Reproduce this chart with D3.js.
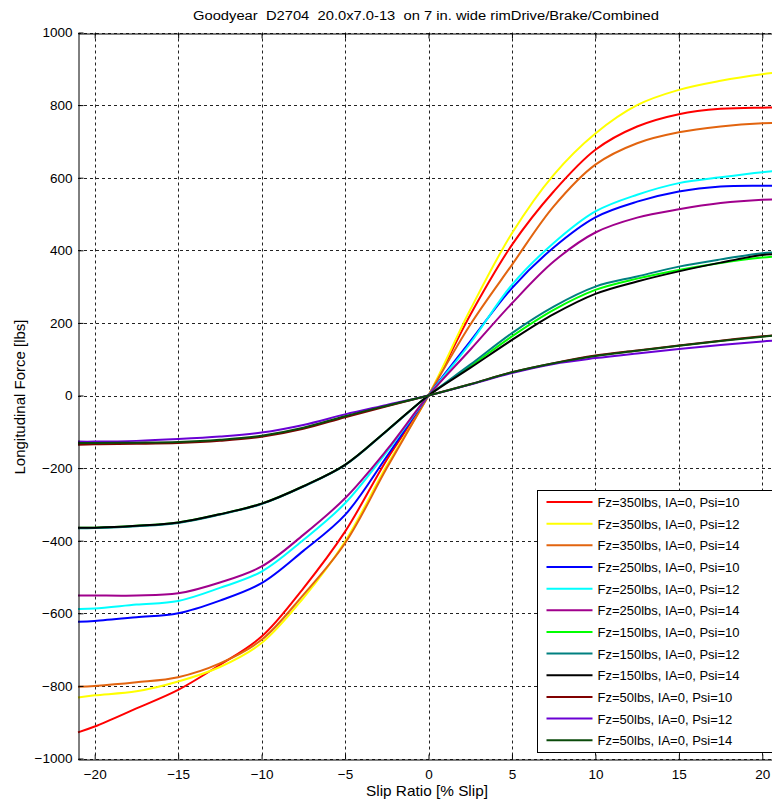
<!DOCTYPE html>
<html>
<head>
<meta charset="utf-8">
<script src="https://cdn.jsdelivr.net/npm/d3@7"></script>
<style>
  body { margin: 0; background: #fff; }
  svg { display: block; font-family: "Liberation Sans", Arial, sans-serif; }
</style>
</head>
<body>
<svg id="vis"></svg>
<script>
const width = 772;
const height = 803;
const margin = { top: 33, bottom: 44, left: 78, right: -7 };

// slip ratio sample points (% slip)
const slip = [-21, -20, -17.5, -15, -12.5, -10, -7.5, -5, -2.5, 0, 2.5, 5, 7.5, 10, 12.5, 15, 17.5, 20, 21];

const labels = [
  "Fz=350lbs, IA=0, Psi=10", "Fz=350lbs, IA=0, Psi=12", "Fz=350lbs, IA=0, Psi=14",
  "Fz=250lbs, IA=0, Psi=10", "Fz=250lbs, IA=0, Psi=12", "Fz=250lbs, IA=0, Psi=14",
  "Fz=150lbs, IA=0, Psi=10", "Fz=150lbs, IA=0, Psi=12", "Fz=150lbs, IA=0, Psi=14",
  "Fz=50lbs, IA=0, Psi=10", "Fz=50lbs, IA=0, Psi=12", "Fz=50lbs, IA=0, Psi=14"
];
const colors = ["#ff0000", "#ffff00", "#e2640f", "#0000ff", "#00ffff", "#a0008c",
                "#00ff00", "#008080", "#000000", "#800000", "#6a00d4", "#0a4a0a"];

// longitudinal force [lbs] at each slip point
const fz350psi10 = [-928, -912, -862, -811, -742, -664, -531, -375, -177, 0, 222, 415, 562, 677, 741, 775, 790, 793, 793];
const fz350psi12 = [-832, -826, -815, -788, -748, -682, -558, -402, -193, 0, 236, 447, 608, 722, 800, 842, 867, 885, 890];
const fz350psi14 = [-802, -800, -790, -776, -738, -673, -549, -407, -200, 0, 195, 360, 521, 636, 695, 725, 741, 750, 751];
const fz250psi10 = [-623, -621, -611, -600, -565, -517, -428, -329, -168, 0, 149, 296, 408, 491, 534, 562, 576, 578, 578];
const fz250psi12 = [-588, -587, -576, -566, -530, -485, -398, -297, -155, 0, 144, 305, 420, 507, 553, 585, 601, 615, 619];
const fz250psi14 = [-551, -551, -551, -545, -515, -471, -384, -283, -150, 0, 126, 254, 369, 449, 490, 513, 530, 539, 540];
const fz150psi10 = [-364, -364, -359, -350, -327, -298, -250, -191, -97, 0, 80, 163, 236, 291, 322, 346, 365, 380, 384];
const fz150psi12 = [-366, -365, -360, -351, -328, -299, -251, -192, -98, 0, 85, 172, 245, 300, 328, 355, 375, 392, 394];
const fz150psi14 = [-364, -364, -359, -350, -327, -298, -250, -191, -97, 0, 76, 153, 224, 280, 314, 342, 366, 387, 390];
const fz50psi10 = [-136, -134, -133, -131, -125, -114, -92, -60, -30, 0, 31, 64, 89, 110, 124, 138, 151, 163, 167];
const fz50psi12 = [-127, -127, -125, -120, -113, -102, -81, -52, -26, 0, 30, 62, 87, 103, 116, 128, 139, 149, 152];
const fz50psi14 = [-131, -131, -130, -128, -122, -111, -89, -57, -28, 0, 31, 64, 89, 109, 123, 137, 150, 162, 166];

const series = [fz350psi10, fz350psi12, fz350psi14, fz250psi10, fz250psi12, fz250psi14,
                fz150psi10, fz150psi12, fz150psi14, fz50psi10, fz50psi12, fz50psi14];

const xTicks = [-20, -15, -10, -5, 0, 5, 10, 15, 20];
const yTicks = [-1000, -800, -600, -400, -200, 0, 200, 400, 600, 800, 1000];

const svg = d3.select("svg#vis").attr("width", width).attr("height", height);

const x = d3.scaleLinear().domain([-21, 21]).range([margin.left, 779]);
const y = d3.scaleLinear().domain([-1000, 1000]).range([height - margin.bottom - 0.5, margin.top - 0.5]);

// grid
const grid = svg.append("g").attr("stroke", "#222").attr("stroke-width", 1).attr("stroke-dasharray", "3,3");
grid.selectAll("line.gx").data(xTicks).enter().append("line")
  .attr("x1", d => Math.round(x(d)) + 0.5).attr("x2", d => Math.round(x(d)) + 0.5)
  .attr("y1", y(1000)).attr("y2", y(-1000));
grid.selectAll("line.gy").data(yTicks).enter().append("line")
  .attr("x1", x(-21)).attr("x2", x(21))
  .attr("y1", d => Math.round(y(d)) + 0.5).attr("y2", d => Math.round(y(d)) + 0.5);

// curves
const line = d3.line().x((d, i) => x(slip[i])).y(d => y(d)).curve(d3.curveCatmullRom.alpha(0.5));
svg.append("g").selectAll("path").data(series).enter().append("path")
  .attr("d", line)
  .attr("fill", "none")
  .attr("stroke", (d, i) => colors[i])
  .attr("stroke-width", 2);

// axes (MATLAB style, ticks inside)
const xAxis = svg.append("g").attr("transform", translate(0, Math.round(y(-1000)) + 0.5))
  .call(d3.axisBottom(x).tickValues(xTicks).tickSizeInner(-5).tickSizeOuter(0).tickPadding(10).tickFormat(d3.format("d")));
const xTop = svg.append("g").attr("transform", translate(0, Math.round(y(1000)) + 0.5))
  .call(d3.axisTop(x).tickValues(xTicks).tickSizeInner(-5).tickSizeOuter(0).tickFormat(""));
const yAxis = svg.append("g").attr("transform", translate(Math.round(x(-21)) + 0.5, 0))
  .call(d3.axisLeft(y).tickValues(yTicks).tickSizeInner(-5).tickSizeOuter(0).tickPadding(6).tickFormat(d3.format("d")));

[xAxis, xTop, yAxis].forEach(a => {
  a.select(".domain").attr("stroke", "#000");
  a.selectAll(".tick line").attr("stroke", "#000");
  a.selectAll("text").attr("font-size", 13.5).attr("font-family", "Liberation Sans, Arial, sans-serif").attr("fill", "#000");
});

// title and axis labels
svg.append("text")
  .attr("x", 426).attr("y", 20)
  .attr("text-anchor", "middle").attr("font-size", 13.7)
  .attr("textLength", 466).attr("lengthAdjust", "spacingAndGlyphs")
  .style("white-space", "pre")
  .text("Goodyear  D2704  20.0x7.0-13  on 7 in. wide rimDrive/Brake/Combined");

svg.append("text")
  .attr("x", 427).attr("y", 796)
  .attr("text-anchor", "middle").attr("font-size", 14.5)
  .attr("textLength", 122).attr("lengthAdjust", "spacingAndGlyphs")
  .text("Slip Ratio [% Slip]");

svg.append("text")
  .attr("transform", "translate(25,397) rotate(-90)")
  .attr("text-anchor", "middle").attr("font-size", 14)
  .attr("textLength", 155).attr("lengthAdjust", "spacingAndGlyphs")
  .text("Longitudinal Force [lbs]");

// legend
const legend = svg.append("g").attr("transform", translate(537.5, 490.5));
legend.append("rect").attr("width", 240).attr("height", 262)
  .attr("fill", "#fff").attr("stroke", "#000").attr("stroke-width", 1);
const entries = legend.selectAll("g.entry").data(labels).enter().append("g")
  .attr("transform", (d, i) => translate(0, 11.5 + i * 21.66));
entries.append("line").attr("x1", 9).attr("x2", 55)
  .attr("stroke", (d, i) => colors[i]).attr("stroke-width", 2);
entries.append("text").attr("x", 60).attr("y", 5).attr("font-size", 13)
  .text(d => d);

function translate(x, y) {
  return "translate(" + String(x) + "," + String(y) + ")";
}
</script>
</body>
</html>
